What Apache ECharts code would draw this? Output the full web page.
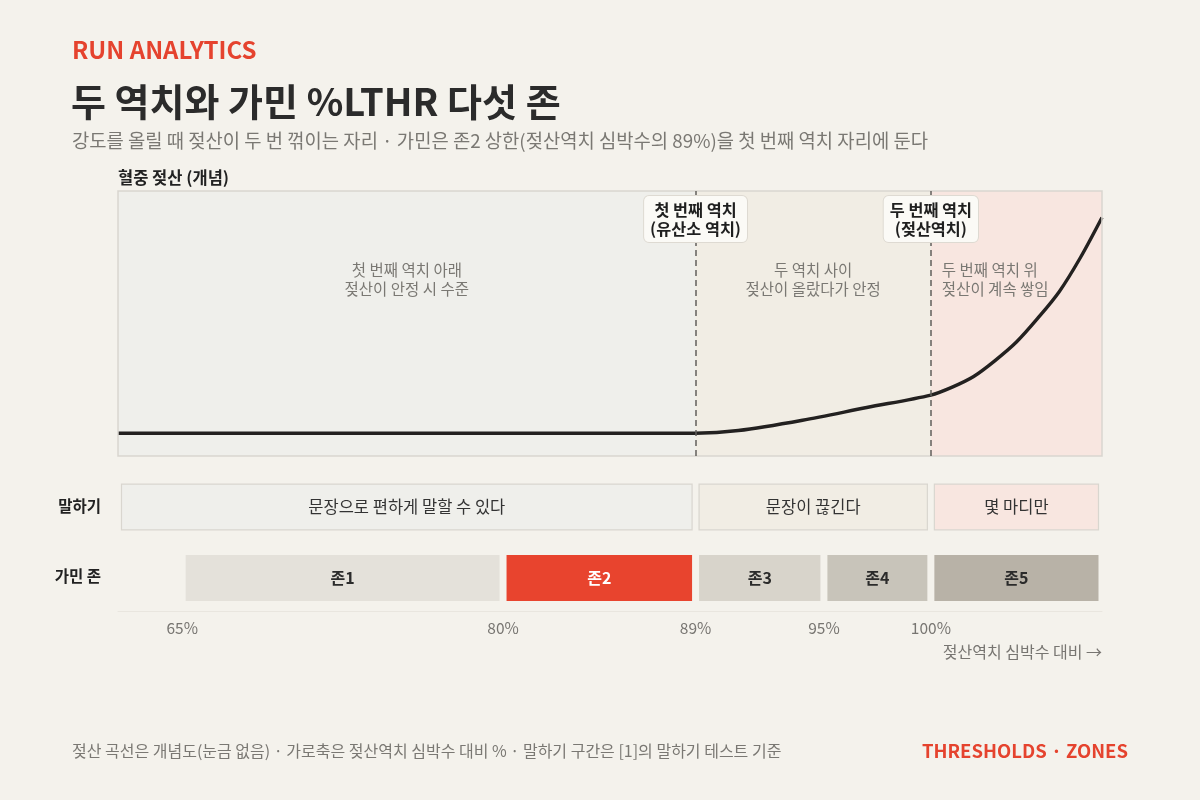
<!DOCTYPE html>
<html>
<head>
<meta charset="utf-8">
<script src="https://cdn.jsdelivr.net/npm/echarts@6/dist/echarts.min.js"></script>
<style>
  html, body {margin: 0; padding: 0; background: #f4f2ec;}
  #chart {width: 1200px; height: 800px;}
</style>
</head>
<body>
<div id="chart"></div>
<script>
// 젖산 곡선 (개념) : %LTHR, 상대값
var curvePct = [62, 80, 89, 91, 94, 97, 100, 101, 102, 103, 104, 105, 106, 107, 108];
var curveVal = [8.6, 8.6, 8.6, 9.6, 13.5, 18.3, 23, 26, 30, 36, 43, 52, 62, 75, 90];

// 역치
var thresholds = [89, 100];
var thresholdNames = ['첫 번째 역치\n(유산소 역치)', '두 번째 역치\n(젖산역치)'];

// 구간
var regionStart = [62, 89, 100];
var regionEnd = [89, 100, 108];
var regionText = ['첫 번째 역치 아래\n젖산이 안정 시 수준', '두 역치 사이\n젖산이 올랐다가 안정', '두 번째 역치 위\n젖산이 계속 쌓임'];
var regionFill = ['#efefeb', '#f1ede4', '#f8e6e0'];

// 말하기
var talkStart = [62, 89, 100];
var talkEnd = [89, 100, 108];
var talkText = ['문장으로 편하게 말할 수 있다', '문장이 끊긴다', '몇 마디만'];

// 가민 존
var zoneStart = [65, 80, 89, 95, 100];
var zoneEnd = [80, 89, 95, 100, 108];
var zoneText = ['존1', '존2', '존3', '존4', '존5'];
var zoneFill = ['#e4e1da', '#e8442e', '#d8d4cb', '#c8c4ba', '#b8b2a7'];

var rows = ['말하기', '가민 존'];
var tickValues = [65, 80, 89, 95, 100];

var FONT = '"Noto Sans CJK KR", "Noto Sans", sans-serif';

var dom = document.getElementById('chart');
var myChart = echarts.init(dom);

var curveData = curvePct.map(function (p, i) { return [p, curveVal[i]]; });

var areaData = regionStart.map(function (s, i) {
    return [{
        xAxis: s,
        itemStyle: {color: regionFill[i]},
        label: {
            show: true,
            formatter: regionText[i],
            position: i === 2 ? [11, 89] : ['50%', 89],
            align: i === 2 ? 'left' : 'center',
            verticalAlign: 'middle',
            color: '#7a7873',
            fontSize: 15.5,
            lineHeight: 19,
            fontFamily: FONT
        }
    }, {xAxis: regionEnd[i]}];
});

var barData = [];
talkStart.forEach(function (s, i) {
    barData.push({value: [s, talkEnd[i], 0], name: talkText[i], kind: 'talk', fill: regionFill[i]});
});
zoneStart.forEach(function (s, i) {
    barData.push({value: [s, zoneEnd[i], 1], name: zoneText[i], kind: 'zone', fill: zoneFill[i], idx: i});
});

function renderBar(params, api) {
    var d = barData[params.dataIndex];
    var p0 = api.coord([api.value(0), api.value(2)]);
    var p1 = api.coord([api.value(1), api.value(2)]);
    var h = api.size([0, 1])[1] * 0.655;
    var x0 = p0[0] + 3.5;
    var w = p1[0] - p0[0] - 7;
    var isTalk = d.kind === 'talk';
    var cy = p0[1] + (isTalk ? 1 : 2);
    return {
        type: 'group',
        children: [{
            type: 'rect',
            shape: {x: x0, y: cy - h / 2, width: w, height: h},
            style: {
                fill: d.fill,
                stroke: isTalk ? '#d9d6cf' : null,
                lineWidth: isTalk ? 1.2 : 0
            }
        }, {
            type: 'text',
            x: x0 + w / 2,
            y: cy,
            style: {
                text: d.name,
                align: 'center',
                verticalAlign: 'middle',
                fontSize: isTalk ? 16.5 : 16,
                fontWeight: isTalk ? 'normal' : 'bold',
                fontFamily: FONT,
                fill: isTalk ? '#333' : (d.idx === 1 ? '#ffffff' : '#2b2b2b')
            }
        }]
    };
}

var option = {
    backgroundColor: '#f4f2ec',
    animation: false,
    textStyle: {fontFamily: FONT},
    title: [
        {text: 'RUN ANALYTICS', left: 72, top: 38, padding: 0, textStyle: {color: '#e5432e', fontSize: 24, fontWeight: 'bold', fontFamily: FONT}},
        {text: '두 역치와 가민 %LTHR 다섯 존', left: 71, top: 83, padding: 0, textStyle: {color: '#2b2b2b', fontSize: 38, fontWeight: 'bold', fontFamily: FONT}},
        {text: '강도를 올릴 때 젖산이 두 번 꺾이는 자리 · 가민은 존2 상한(젖산역치 심박수의 89%)을 첫 번째 역치 자리에 둔다', left: 72, top: 131, padding: 0, textStyle: {color: '#7a7873', fontSize: 18.8, fontWeight: 'normal', fontFamily: FONT}},
        {text: '젖산 곡선은 개념도(눈금 없음) · 가로축은 젖산역치 심박수 대비 % · 말하기 구간은 [1]의 말하기 테스트 기준', left: 72, top: 743, padding: 0, textStyle: {color: '#7a7873', fontSize: 16, fontWeight: 'normal', fontFamily: FONT}},
        {text: 'THRESHOLDS · ZONES', right: 72, top: 742, padding: 0, textStyle: {color: '#e5432e', fontSize: 18.5, fontWeight: 'bold', fontFamily: FONT}}
    ],
    grid: [
        {left: 118, right: 98, top: 191, bottom: 344, show: true, borderColor: '#d9d6cf', borderWidth: 1.5, backgroundColor: 'transparent', z: 5},
        {left: 118, right: 98, top: 471, bottom: 189}
    ],
    xAxis: [{
        gridIndex: 0, type: 'value', min: 62, max: 108,
        axisLine: {show: false}, axisTick: {show: false}, axisLabel: {show: false}, splitLine: {show: false}
    }, {
        gridIndex: 1, type: 'value', min: 62, max: 108,
        axisLine: {show: true, lineStyle: {color: '#e9e6df', width: 1}},
        axisTick: {show: false},
        splitLine: {show: false},
        axisLabel: {
            customValues: tickValues,
            formatter: '{value}%',
            color: '#777571', fontSize: 15.5, margin: 9, fontFamily: FONT
        },
        name: '젖산역치 심박수 대비 →',
        nameLocation: 'end',
        nameGap: 0,
        nameTextStyle: {align: 'right', verticalAlign: 'top', padding: [33, 0, 0, 0], color: '#777571', fontSize: 16, fontFamily: FONT}
    }],
    yAxis: [{
        gridIndex: 0, type: 'value', min: 0, max: 100,
        axisLine: {show: false}, axisTick: {show: false}, axisLabel: {show: false}, splitLine: {show: false},
        name: '혈중 젖산 (개념)',
        nameLocation: 'end',
        nameGap: 5,
        nameTextStyle: {align: 'left', color: '#222', fontSize: 16.5, fontWeight: 'bold', fontFamily: FONT}
    }, {
        gridIndex: 1, type: 'category', data: rows, inverse: true,
        axisLine: {show: false}, axisTick: {show: false}, splitLine: {show: false},
        axisLabel: {color: '#222', fontSize: 15.5, fontWeight: 'bold', margin: 17, fontFamily: FONT}
    }],
    series: [{
        type: 'line',
        xAxisIndex: 0, yAxisIndex: 0,
        data: curveData,
        smooth: 0.3,
        symbol: 'none',
        lineStyle: {color: '#232120', width: 3.4},
        z: 4,
        markArea: {silent: true, data: areaData, z: 1},
        markLine: {
            silent: true,
            symbol: 'none',
            lineStyle: {color: '#625f5b', type: [6, 4], width: 1.5},
            label: {show: false},
            data: thresholds.map(function (t) { return {xAxis: t}; })
        },
        markPoint: {
            silent: true,
            symbol: 'rect',
            symbolSize: 0,
            data: thresholds.map(function (t, i) {
                return {
                    coord: [t, 89.4],
                    label: {
                        show: true,
                        position: 'inside',
                        formatter: thresholdNames[i],
                        color: '#1f1f1f',
                        fontSize: 16.3,
                        fontWeight: 'bold',
                        lineHeight: 19,
                        fontFamily: FONT,
                        backgroundColor: '#fbfaf6',
                        borderColor: '#dedad2',
                        borderWidth: 1,
                        borderRadius: 5,
                        padding: [4, 6, 4, 6]
                    }
                };
            })
        }
    }, {
        type: 'custom',
        xAxisIndex: 1, yAxisIndex: 1,
        renderItem: renderBar,
        encode: {x: [0, 1], y: 2},
        data: barData.map(function (d) { return d.value; })
    }]
};

myChart.setOption(option);
</script>
</body>
</html>
